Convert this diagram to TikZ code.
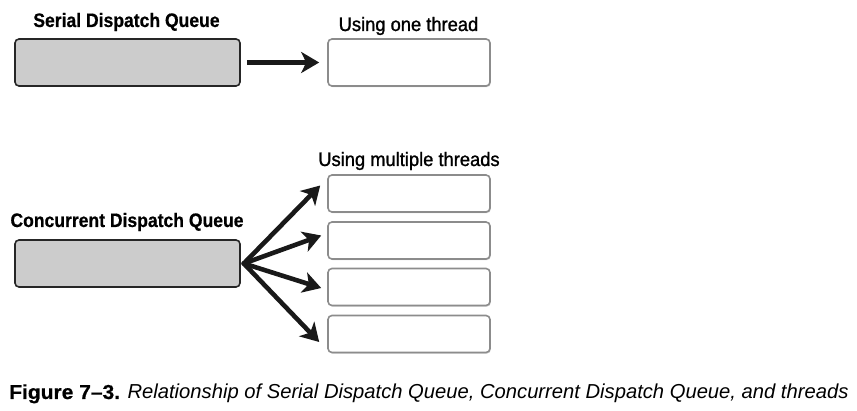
\documentclass[tikz,border=0pt]{standalone}
\usepackage{fontspec}
\setmainfont{Liberation Sans}
\newfontfamily\lblfont{Liberation Sans}[FakeStretch=0.94,FakeBold=1.2]
\newfontfamily\lblbfont{Liberation Sans Bold}[FakeStretch=0.9,FakeBold=0.6]
\newfontfamily\capbfont{Liberation Sans Bold}[FakeStretch=1.04,FakeBold=0.6]
\usetikzlibrary{arrows.meta,shadows}
\begin{document}
\begin{tikzpicture}[x=1pt,y=-1pt,
  queuebox/.style={draw=black!85,fill=black!20,line width=1.6pt,rounded corners=4pt,minimum width=225pt,minimum height=47pt,inner sep=0pt},
  threadbox/.style={draw=black!45,fill=white,line width=1.6pt,rounded corners=4pt,minimum width=162pt,minimum height=37pt,inner sep=0pt,
     drop shadow={shadow xshift=0.8pt,shadow yshift=-1.2pt,fill=black!30,opacity=0.6}},
  bigthread/.style={threadbox,minimum height=47pt},
  lbl/.style={inner sep=0pt,anchor=base,font=\lblfont\fontsize{19.5}{22}\selectfont},
  blbl/.style={inner sep=0pt,anchor=base,font=\lblbfont\fontsize{19.5}{22}\selectfont},
  conn/.style={line width=4.6pt,-{Stealth[length=18pt,width=21pt,inset=5pt]},black!90}]
\useasboundingbox (0,0) rectangle (857,411);
\node[queuebox] (serial) at (127.5,62.5) {};
\node[bigthread] (one) at (409,62.5) {};
\node[blbl] (serlbl) at (126.5,27) {Serial Dispatch Queue};
\node[lbl] (onelbl) at (408.5,31) {Using one thread};
\draw[conn] ([xshift=6pt]serial.east) -- ([xshift=-8pt]one.west);

\node[queuebox] (conc) at (127.5,263.5) {};
\node[blbl] (conclbl) at (127,227) {Concurrent Dispatch Queue};
\node[lbl] (multlbl) at (409,166) {Using multiple threads};
\node[threadbox] (t1) at (409,193.5) {};
\node[threadbox] (t2) at (409,240.5) {};
\node[threadbox] (t3) at (409,287) {};
\node[threadbox] (t4) at (409,334) {};
\coordinate (fan) at ([xshift=3pt]conc.east);
\coordinate (e1) at ([xshift=-7pt,yshift=8pt]t1.west);
\coordinate (e2) at ([xshift=-6pt,yshift=5pt]t2.west);
\coordinate (e3) at ([xshift=-6pt,yshift=-1pt]t3.west);
\coordinate (e4) at ([xshift=-8pt,yshift=-8pt]t4.west);
\foreach \e in {e1,e2,e3,e4} \draw[conn,line cap=round] (fan) -- (\e);

\node[inner sep=0pt,anchor=base west,font=\fontsize{20.2}{24}\selectfont] (caption) at (9,399) {{\capbfont Figure 7–3.} \textit{Relationship of Serial Dispatch Queue, Concurrent Dispatch Queue, and threads}};
\end{tikzpicture}
\end{document}
